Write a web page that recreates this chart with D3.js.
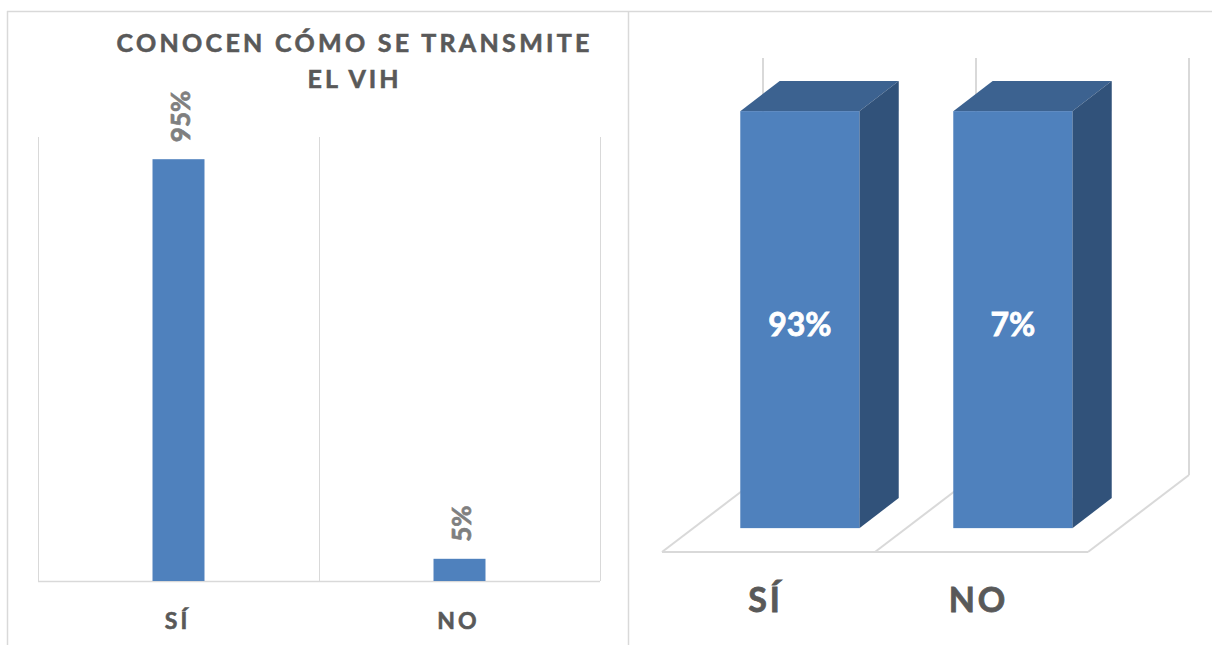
<!DOCTYPE html>
<html><head><meta charset="utf-8">
<script src="https://cdn.jsdelivr.net/npm/d3@7"></script>
<style>body{margin:0;background:#fff}svg{display:block}</style>
</head><body>
<svg id="c" width="1212" height="645"></svg>
<script>
// ---- data ----
const categories = ["SÍ", "NO"];
const leftValues = [0.95, 0.05];
const leftLabels = ["95%", "5%"];
const rightValues = [0.93, 0.07];
const rightLabels = ["93%", "7%"];
const titleLines = ["CONOCEN CÓMO SE TRANSMITE", "EL VIH"];
const rightAxisMax = 0.07; // 3-D chart axis max: both columns reach the top

const FONT = "Lato, 'Open Sans', sans-serif";
const svg = d3.select("#c");
const grid = "#d9d9d9";

// panel borders
svg.append("line").attr("x1", 7).attr("x2", 1212).attr("y1", 11.5).attr("y2", 11.5).attr("stroke", grid).attr("stroke-width", 1.5);
[7.5, 628.5].forEach(x => svg.append("line").attr("x1", x).attr("x2", x).attr("y1", 11).attr("y2", 645).attr("stroke", grid).attr("stroke-width", 1.5));

// ---- left chart ----
const L = svg.append("g");
const xL = d3.scaleBand().domain(categories).range([38, 600]).paddingInner(0.815).paddingOuter(0.4075);
const yL = d3.scaleLinear().domain([0, 1]).range([581, 137]);
const stepL = xL.step();
const boundaries = d3.range(categories.length + 1).map(i => 38 + i * stepL);
L.selectAll("line.g").data(boundaries).join("line")
  .attr("x1", d => Math.round(d) + 0.5).attr("x2", d => Math.round(d) + 0.5)
  .attr("y1", yL(1)).attr("y2", yL(0)).attr("stroke", grid).attr("stroke-width", 1);
L.append("line").attr("x1", 38).attr("x2", 600).attr("y1", yL(0) + 0.5).attr("y2", yL(0) + 0.5)
  .attr("stroke", grid).attr("stroke-width", 1.5);
L.selectAll("rect.bar").data(leftValues).join("rect")
  .attr("x", (d, i) => xL(categories[i])).attr("width", xL.bandwidth())
  .attr("y", d => yL(d)).attr("height", d => yL(0) - yL(d)).attr("fill", "#4f81bd");
L.selectAll("text.v").data(leftValues).join("text")
  .attr("transform", (d, i) => `translate(${xL(categories[i]) + xL.bandwidth() / 2 + 1},${yL(d) - 17}) rotate(-90)`)
  .attr("dominant-baseline", "central").attr("text-anchor", "start")
  .attr("font-family", FONT).attr("font-weight", "bold").attr("font-size", 26).attr("fill", "#7f7f7f")
  .attr("stroke", "#7f7f7f").attr("stroke-width", 0.7)
  .text((d, i) => leftLabels[i]);
L.selectAll("text.c").data(categories).join("text")
  .attr("x", d => xL(d) + xL.bandwidth() / 2 - 1).attr("y", 629)
  .attr("text-anchor", "middle").attr("font-family", FONT).attr("font-weight", "bold")
  .attr("font-size", 23).attr("letter-spacing", 3).attr("fill", "#595959")
  .attr("stroke", "#595959").attr("stroke-width", 0.6).text(d => d);
L.selectAll("text.t").data(titleLines).join("text")
  .attr("x", 353).attr("y", (d, i) => 52 + i * 36)
  .attr("text-anchor", "middle").attr("font-family", FONT).attr("font-weight", "bold")
  .attr("font-size", 25).attr("fill", "#595959").attr("stroke", "#595959").attr("stroke-width", 0.6)
  .attr("textLength", (d, i) => i === 0 ? 473 : 91).attr("lengthAdjust", "spacing")
  .text(d => d);

// ---- right chart (3-D columns) ----
const R = svg.append("g");
const floorY = 552, DX = 101, DY = 77;
const xR = d3.scaleBand().domain(categories).range([662, 1088]).paddingInner(0.441).paddingOuter(0.2205);
const hR = d3.scaleLinear().domain([0, rightAxisMax]).range([0, 417]).clamp(true);
const proj = (x, h, z) => [x + z * DX, floorY - h - z * DY];
const stepR = xR.step();
const bR = d3.range(categories.length + 1).map(i => 662 + i * stepR);
// back wall gridlines
R.selectAll("line.w").data(bR).join("line")
  .attr("x1", d => proj(d, 0, 1)[0]).attr("x2", d => proj(d, 0, 1)[0])
  .attr("y1", proj(0, 0, 1)[1]).attr("y2", proj(0, hR.range()[1], 1)[1])
  .attr("stroke", grid).attr("stroke-width", 2);
// floor: front edge and depth lines
R.append("line").attr("x1", 662).attr("x2", 1088).attr("y1", floorY).attr("y2", floorY).attr("stroke", grid).attr("stroke-width", 2);
R.selectAll("line.f").data(bR).join("line")
  .attr("x1", d => d).attr("y1", floorY).attr("x2", d => proj(d, 0, 1)[0]).attr("y2", proj(0, 0, 1)[1])
  .attr("stroke", grid).attr("stroke-width", 2);
// bars
const z0 = 0.31, z1 = 0.70;
const poly = pts => pts.map(p => p.join(",")).join(" ");
categories.forEach((c, i) => {
  const x0 = xR(c), x1 = x0 + xR.bandwidth(), h = hR(rightValues[i]);
  R.append("polygon").attr("points", poly([proj(x0, h, z0), proj(x1, h, z0), proj(x1, h, z1), proj(x0, h, z1)])).attr("fill", "#3c6290");
  R.append("polygon").attr("points", poly([proj(x1, 0, z0), proj(x1, h, z0), proj(x1, h, z1), proj(x1, 0, z1)])).attr("fill", "#31527a");
  const a = proj(x0, h, z0), b = proj(x1, 0, z0);
  R.append("rect").attr("x", a[0]).attr("y", a[1]).attr("width", b[0] - a[0]).attr("height", b[1] - a[1]).attr("fill", "#4f81bd");
  R.append("text").attr("x", (a[0] + b[0]) / 2).attr("y", 323)
    .attr("text-anchor", "middle").attr("dominant-baseline", "central")
    .attr("font-family", FONT).attr("font-weight", "bold").attr("font-size", 32).attr("fill", "#ffffff")
    .attr("stroke", "#ffffff").attr("stroke-width", 0.8)
    .text(rightLabels[i]);
});
R.selectAll("text.c").data(categories).join("text")
  .attr("x", d => xR(d) + xR.bandwidth() / 2 - 3).attr("y", 612)
  .attr("text-anchor", "middle").attr("font-family", FONT).attr("font-weight", "bold")
  .attr("font-size", 34).attr("letter-spacing", 3).attr("fill", "#595959")
  .attr("stroke", "#595959").attr("stroke-width", 0.8).text(d => d);
</script>
</body></html>
